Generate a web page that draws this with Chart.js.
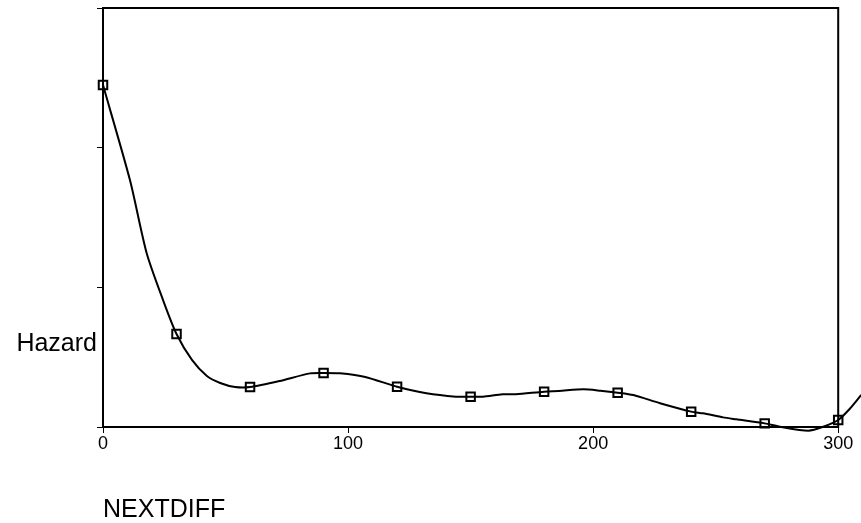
<!DOCTYPE html>
<html>
<head>
<meta charset="utf-8">
<script src="https://cdn.jsdelivr.net/npm/chart.js@4.4.1/dist/chart.umd.min.js"></script>
<style>
html,body{margin:0;padding:0;background:#fff;}
#wrap{position:relative;width:861px;height:523px;}
canvas{display:block;}
</style>
</head>
<body>
<div id="wrap"><canvas id="c" width="861" height="523"></canvas></div>
<script>
// ---- data ----
const curveX = [0, 11, 17.8, 24.5, 30, 36.3, 42.4, 47.8, 53.9, 60, 72, 84.5, 90, 96.7, 107, 120, 132, 144, 150, 155, 163, 168.5, 180, 186, 196, 203, 210, 216.4, 227.3, 240, 244.8, 253, 258.4, 270, 276.2, 287.8, 293.9, 300, 304.9, 309.4, 313];
const curveY = [2.448, 1.768, 1.246, 0.909, 0.666, 0.480, 0.365, 0.315, 0.286, 0.286, 0.329, 0.384, 0.387, 0.384, 0.358, 0.288, 0.241, 0.217, 0.217, 0.217, 0.234, 0.234, 0.253, 0.258, 0.270, 0.260, 0.246, 0.229, 0.170, 0.110, 0.098, 0.069, 0.055, 0.026, 0.002, -0.026, 0.002, 0.050, 0.134, 0.229, 0.300];
const markerX = [0, 30, 60, 90, 120, 150, 180, 210, 240, 270, 300];
const markerY = [2.448, 0.666, 0.286, 0.387, 0.288, 0.217, 0.253, 0.246, 0.110, 0.026, 0.050];
const xTickValues = [0, 100, 200, 300];
const xTickLabels = ['0', '100', '200', '300'];
const xFrameMax = 300;   // right edge of the plot frame (data units)
const xViewMax = 309.3;  // curve continues past the frame to the canvas edge
const xTitle = 'NEXTDIFF';
const yTitle = 'Hazard';

const FONT = "'Liberation Sans', Arial, Helvetica, sans-serif";

const curveData = curveX.map((x, i) => ({x: x, y: curveY[i]}));
const markerData = markerX.map((x, i) => ({x: x, y: markerY[i]}));

const framePlugin = {
  id: 'frame',
  afterDatasetsDraw(chart) {
    const ctx = chart.ctx, a = chart.chartArea;
    const xs = chart.scales.x;
    const r = xs.getPixelForValue(xFrameMax);
    ctx.save();
    ctx.strokeStyle = '#000';
    ctx.lineWidth = 2;
    ctx.beginPath();
    ctx.moveTo(a.left, a.bottom);
    ctx.lineTo(r, a.bottom);
    ctx.lineTo(r, a.top);
    ctx.lineTo(a.left, a.top);
    ctx.stroke();
    ctx.fillStyle = '#000';
    ctx.font = "25px " + FONT;
    ctx.textBaseline = 'alphabetic';
    ctx.textAlign = 'right';
    ctx.fillText(yTitle, 97, 351);
    ctx.textAlign = 'left';
    ctx.fillText(xTitle, 103, 517);
    ctx.restore();
  }
};

new Chart(document.getElementById('c'), {
  type: 'scatter',
  data: {
    datasets: [
      {
        data: curveData,
        showLine: true,
        borderColor: '#000',
        borderWidth: 2,
        pointRadius: 0,
        tension: 0.25,
        fill: false,
        clip: false
      },
      {
        data: markerData,
        showLine: false,
        pointStyle: 'rect',
        pointRadius: 6,
        pointBorderWidth: 2,
        pointBorderColor: '#000',
        pointBackgroundColor: 'rgba(0,0,0,0)',
        clip: false
      }
    ]
  },
  options: {
    responsive: false,
    devicePixelRatio: 1,
    animation: false,
    layout: {autoPadding: false, padding: {top: 8, right: 0, left: 0, bottom: 0}},
    plugins: {legend: {display: false}, tooltip: {enabled: false}},
    scales: {
      x: {
        type: 'linear',
        min: 0, max: xViewMax,
        border: {display: false},
        grid: {display: true, drawOnChartArea: false, drawTicks: true, tickLength: 6, color: '#000', lineWidth: 1},
        afterBuildTicks: (s) => { s.ticks = xTickValues.map(v => ({value: v})); },
        ticks: {
          color: '#000',
          padding: 0,
          font: {family: FONT, size: 18},
          maxRotation: 0,
          autoSkip: false,
          callback: (v) => xTickLabels[xTickValues.indexOf(v)]
        },
        afterFit: (s) => { s.height = 96; s.paddingLeft = 0; s.paddingRight = 0; }
      },
      y: {
        type: 'linear',
        min: 0, max: 3,
        border: {display: true, color: '#000', width: 2},
        grid: {display: true, drawOnChartArea: false, drawTicks: true, tickLength: 6, color: '#000', lineWidth: 1},
        ticks: {stepSize: 1, display: false},
        afterFit: (s) => { s.width = 103; s.paddingTop = 0; s.paddingBottom = 0; }
      }
    }
  },
  plugins: [framePlugin]
});
</script>
</body>
</html>
